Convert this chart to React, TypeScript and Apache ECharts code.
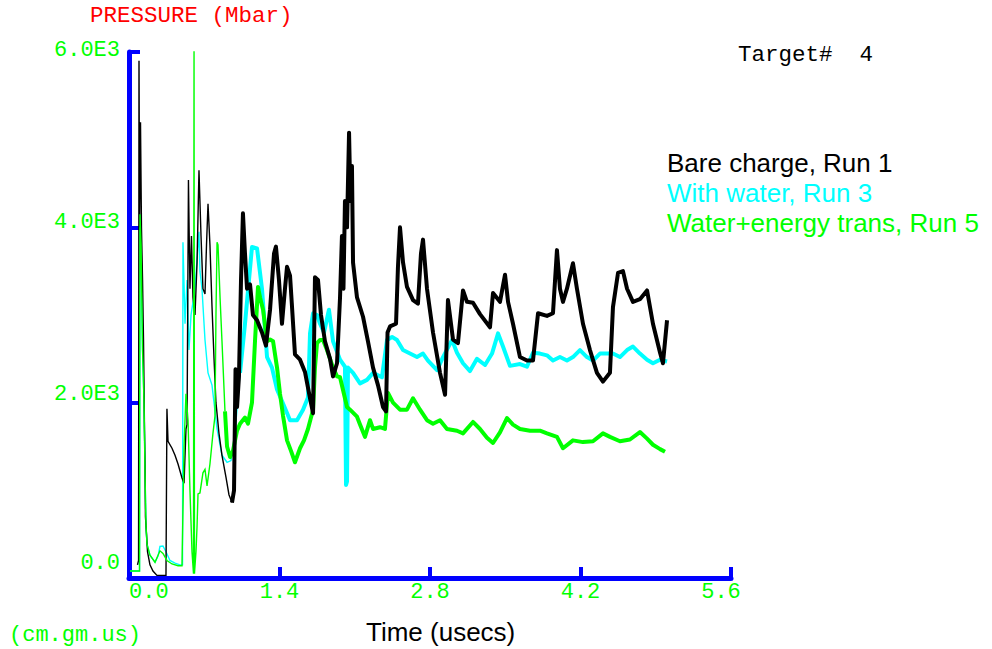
import React, { useEffect, useRef } from 'react';
import * as echarts from 'echarts';

// ---- data (time in usecs, pressure in Mbar) ----
const xTicks = [0, 1.4, 2.8, 4.2, 5.6];
const yTicks = [0, 2000, 4000, 6000];

const blackT = [0.079, 0.089, 0.093, 0.098, 0.107, 0.116, 0.126, 0.135, 0.144, 0.149, 0.153, 0.163, 0.172, 0.195, 0.223, 0.26, 0.344, 0.353, 0.363, 0.4, 0.428, 0.456, 0.493, 0.512, 0.53, 0.54, 0.553, 0.567, 0.581, 0.595, 0.614, 0.633, 0.651, 0.67, 0.688, 0.707, 0.721, 0.735, 0.753, 0.772, 0.791, 0.809, 0.837, 0.865, 0.902, 0.93, 0.958, 0.977, 0.991, 1.005, 1.023, 1.042, 1.06, 1.079, 1.098, 1.126, 1.153, 1.191, 1.237, 1.274, 1.312, 1.349, 1.367, 1.395, 1.423, 1.451, 1.47, 1.498, 1.516, 1.544, 1.591, 1.637, 1.684, 1.712, 1.73, 1.758, 1.786, 1.823, 1.87, 1.898, 1.935, 1.963, 1.981, 1.995, 2.009, 2.028, 2.047, 2.06, 2.074, 2.084, 2.121, 2.177, 2.223, 2.27, 2.316, 2.363, 2.391, 2.405, 2.428, 2.484, 2.502, 2.521, 2.549, 2.586, 2.642, 2.688, 2.716, 2.735, 2.772, 2.828, 2.893, 2.94, 2.967, 3.014, 3.06, 3.107, 3.144, 3.2, 3.265, 3.358, 3.386, 3.451, 3.498, 3.526, 3.572, 3.637, 3.702, 3.758, 3.805, 3.888, 3.944, 3.981, 4.009, 4.037, 4.074, 4.13, 4.167, 4.223, 4.288, 4.353, 4.409, 4.474, 4.502, 4.549, 4.595, 4.633, 4.688, 4.753, 4.819, 4.874, 4.94, 4.967, 5.005];
const blackV = [150, 200, 5900, 4000, 5200, 4000, 3400, 2700, 1700, 1300, 700, 500, 300, 150, 80, 30, 30, 1930, 1560, 1480, 1400, 1300, 1140, 1080, 1700, 1750, 4540, 3300, 3900, 3200, 3000, 3600, 4650, 3900, 3300, 3240, 3800, 4270, 3800, 3100, 2500, 2000, 1650, 1400, 1150, 950, 860, 1000, 2380, 1950, 2300, 3400, 4160, 3700, 3300, 3350, 3000, 2940, 2800, 2650, 3060, 3700, 3780, 3400, 2900, 3300, 3550, 3450, 3100, 2550, 2490, 2350, 2050, 1880, 3430, 3400, 3000, 2700, 2500, 2300, 2450, 3200, 3900, 3300, 4300, 4000, 5080, 4300, 4700, 3600, 3200, 2980, 2700, 2400, 2200, 1950, 1900, 2800, 2870, 2900, 3550, 4000, 3600, 3320, 3170, 3130, 3700, 3860, 3300, 2800, 2340, 2090, 3170, 2720, 2680, 3280, 3150, 3140, 3010, 2860, 3250, 3150, 3460, 3150, 2900, 2520, 2480, 2480, 3020, 2990, 3020, 3740, 3300, 3150, 3300, 3590, 3300, 2900, 2600, 2340, 2240, 2340, 3090, 3480, 3500, 3300, 3150, 3180, 3280, 2900, 2570, 2450, 2940];

const cyanT = [0.009, 0.098, 0.102, 0.112, 0.126, 0.14, 0.149, 0.158, 0.167, 0.195, 0.242, 0.27, 0.288, 0.316, 0.344, 0.381, 0.428, 0.474, 0.498, 0.502, 0.521, 0.54, 0.558, 0.577, 0.614, 0.651, 0.66, 0.679, 0.707, 0.735, 0.772, 0.819, 0.865, 0.912, 0.949, 0.986, 1.033, 1.079, 1.144, 1.191, 1.237, 1.284, 1.33, 1.377, 1.433, 1.498, 1.563, 1.619, 1.665, 1.684, 1.712, 1.749, 1.777, 1.814, 1.86, 1.898, 1.963, 2.009, 2.019, 2.028, 2.037, 2.084, 2.149, 2.214, 2.27, 2.353, 2.4, 2.447, 2.493, 2.549, 2.614, 2.679, 2.735, 2.781, 2.865, 2.921, 3.005, 3.051, 3.107, 3.172, 3.237, 3.312, 3.377, 3.433, 3.479, 3.544, 3.637, 3.702, 3.758, 3.823, 3.888, 3.944, 4.009, 4.074, 4.13, 4.195, 4.26, 4.316, 4.381, 4.447, 4.502, 4.567, 4.633, 4.688, 4.753, 4.819, 4.874, 4.94, 5.005];
const cyanV = [80, 80, 4150, 3800, 2600, 2000, 1200, 600, 390, 260, 180, 250, 360, 365, 300, 200, 170, 150, 150, 3830, 2900, 3400, 2600, 3000, 3300, 3950, 3500, 3300, 2715, 2340, 2200, 1700, 1400, 1320, 1340, 1650, 2340, 2900, 3775, 3760, 3300, 2520, 2400, 2150, 1990, 1800, 1800, 1920, 2060, 2790, 3020, 3000, 2900, 2800, 3060, 2700, 2490, 2410, 1060, 1100, 2400, 2340, 2220, 2260, 2340, 2290, 2715, 2750, 2715, 2600, 2560, 2520, 2560, 2480, 2370, 2520, 2715, 2570, 2450, 2360, 2500, 2430, 2560, 2790, 2640, 2420, 2440, 2410, 2570, 2560, 2540, 2480, 2520, 2480, 2520, 2600, 2520, 2480, 2560, 2560, 2560, 2520, 2600, 2640, 2560, 2490, 2450, 2490, 2470];

const greenT = [0.009, 0.098, 0.102, 0.112, 0.126, 0.14, 0.149, 0.158, 0.167, 0.195, 0.242, 0.288, 0.316, 0.353, 0.4, 0.456, 0.493, 0.512, 0.53, 0.549, 0.567, 0.586, 0.6, 0.605, 0.609, 0.623, 0.633, 0.642, 0.66, 0.688, 0.707, 0.726, 0.753, 0.781, 0.8, 0.809, 0.819, 0.828, 0.847, 0.865, 0.893, 0.912, 0.94, 0.967, 1.005, 1.033, 1.079, 1.107, 1.144, 1.172, 1.2, 1.219, 1.247, 1.284, 1.312, 1.34, 1.377, 1.405, 1.433, 1.47, 1.507, 1.544, 1.591, 1.628, 1.665, 1.712, 1.73, 1.749, 1.777, 1.805, 1.842, 1.898, 1.935, 1.963, 2.028, 2.056, 2.121, 2.149, 2.195, 2.242, 2.27, 2.335, 2.381, 2.409, 2.456, 2.521, 2.586, 2.642, 2.707, 2.772, 2.828, 2.893, 2.958, 3.051, 3.107, 3.2, 3.265, 3.33, 3.386, 3.451, 3.516, 3.572, 3.637, 3.73, 3.823, 3.888, 3.981, 4.037, 4.13, 4.223, 4.316, 4.409, 4.474, 4.567, 4.66, 4.753, 4.819, 4.874, 4.94, 4.986];
const greenV = [80, 80, 4150, 3800, 2600, 2000, 1200, 600, 390, 260, 180, 310, 280, 200, 160, 140, 140, 1500, 2100, 1800, 1000, 300, 50, 6030, 50, 300, 590, 960, 970, 1200, 1240, 1050, 1300, 1650, 1850, 3000, 3830, 3800, 3200, 2700, 1900, 1500, 1380, 1450, 1680, 1760, 1830, 1760, 2000, 2700, 3320, 3200, 3060, 2700, 2720, 2700, 2400, 2100, 1850, 1570, 1450, 1320, 1480, 1570, 1700, 1920, 2400, 2680, 2715, 2715, 2600, 2400, 2300, 2290, 1950, 1920, 1840, 1750, 1610, 1800, 1700, 1720, 1700, 2110, 2000, 1920, 1920, 2050, 1920, 1800, 1760, 1800, 1700, 1680, 1650, 1780, 1700, 1600, 1540, 1660, 1825, 1750, 1700, 1680, 1680, 1650, 1610, 1480, 1570, 1550, 1560, 1650, 1610, 1560, 1580, 1665, 1590, 1520, 1470, 1440];

const seriesNames = ['Bare charge, Run 1', 'With water, Run 3', 'Water+energy trans, Run 5'];

// ---- styling ----
const BLUE = '#0000ff';
const GREEN = '#00ff00';
const CYAN = '#00ffff';
const BLACK = '#000000';
const MONO = '"Liberation Mono", "DejaVu Sans Mono", monospace';
const SANS = '"Liberation Sans", Arial, sans-serif';

function pairs(t: number[], v: number[]) {
  return t.map((x, i) => [x, v[i]]);
}

function splitSeries(name: string, t: number[], v: number[], color: string, splitAt: number, zEarly: number, zLate: number) {
  const all = pairs(t, v);
  const early = all.filter((p) => p[0] <= splitAt);
  const late = all.filter((p) => p[0] >= splitAt);
  const base = {
    type: 'line',
    name,
    showSymbol: false,
    symbol: 'none',
    silent: true,
  };
  return [
    { ...base, z: zEarly, data: early, lineStyle: { color, width: 1.4, join: 'miter' } },
    { ...base, z: zLate, data: late, lineStyle: { color, width: 4, join: 'round' } },
  ];
}

function fmtY(v: number) {
  if (v === 0) return '0.0';
  return (v / 1000).toFixed(1) + 'E3';
}

const yShift: Record<string, number> = { '0': 30, '2000': 16, '4000': 10, '6000': 4 };

export default function App() {
  const ref = useRef<HTMLDivElement>(null);

  useEffect(() => {
    document.body.style.margin = '0';
    if (!ref.current) return;
    const chart = echarts.init(ref.current, undefined, { renderer: 'svg' });
    const richY: Record<string, any> = {};
    yTicks.forEach((v) => {
      richY['l' + v] = {
        color: GREEN,
        fontFamily: MONO,
        fontSize: 22,
        padding: [0, 0, yShift[String(v)] || 0, 0],
      };
    });
    const richX = {
      n: { color: GREEN, fontFamily: MONO, fontSize: 22 },
      last: { color: GREEN, fontFamily: MONO, fontSize: 22, padding: [0, 20, 0, 0] },
    };

    const option: any = {
      animation: false,
      backgroundColor: '#ffffff',
      grid: { left: 129, right: 261, top: 52, bottom: 71, containLabel: false },
      xAxis: {
        type: 'value',
        min: xTicks[0],
        max: xTicks[xTicks.length - 1],
        interval: 1.4,
        axisLine: { show: true, onZero: false, lineStyle: { color: BLUE, width: 5 } },
        axisTick: { show: true, inside: true, length: 11, lineStyle: { color: BLUE, width: 4 } },
        axisLabel: {
          color: GREEN,
          fontFamily: MONO,
          fontSize: 22,
          margin: 3,
          alignMinLabel: 'left',
          formatter: (v: number) =>
            Math.abs(v - xTicks[xTicks.length - 1]) < 1e-6 ? '{last|' + v.toFixed(1) + '}' : '{n|' + v.toFixed(1) + '}',
          rich: richX,
        },
        splitLine: { show: false },
      },
      yAxis: {
        type: 'value',
        min: yTicks[0],
        max: yTicks[yTicks.length - 1],
        interval: 2000,
        axisLine: { show: true, onZero: false, lineStyle: { color: BLUE, width: 5 } },
        axisTick: { show: true, inside: true, length: 11, lineStyle: { color: BLUE, width: 4 } },
        axisLabel: {
          color: GREEN,
          fontFamily: MONO,
          fontSize: 22,
          margin: 9,
          formatter: (v: number) => '{l' + v + '|' + fmtY(v) + '}',
          rich: richY,
        },
        splitLine: { show: false },
      },
      series: [
        ...splitSeries(seriesNames[1], cyanT, cyanV, CYAN, 1.033, 2, 2),
        ...splitSeries(seriesNames[2], greenT, greenV, GREEN, 0.893, 4, 3),
        ...splitSeries(seriesNames[0], blackT, blackV, BLACK, 0.958, 3, 4),
      ],
      graphic: [
        { type: 'text', x: 90, y: 16, style: { text: 'PRESSURE (Mbar)', fill: '#ff0000', font: '22.5px ' + MONO, verticalAlign: 'middle' } },
        { type: 'text', x: 738, y: 55, style: { text: 'Target#  4', fill: BLACK, font: '22.5px ' + MONO, verticalAlign: 'middle' } },
        { type: 'text', x: 9, y: 635, style: { text: '(cm.gm.us)', fill: GREEN, font: '22px ' + MONO, verticalAlign: 'middle' } },
        { type: 'text', x: 366, y: 632, style: { text: 'Time (usecs)', fill: BLACK, font: '26px ' + SANS, verticalAlign: 'middle' } },
        { type: 'text', x: 667, y: 163, style: { text: seriesNames[0], fill: BLACK, font: '26px ' + SANS, verticalAlign: 'middle' } },
        { type: 'text', x: 667, y: 193, style: { text: seriesNames[1], fill: CYAN, font: '26px ' + SANS, verticalAlign: 'middle' } },
        { type: 'text', x: 667, y: 223, style: { text: seriesNames[2], fill: GREEN, font: '26px ' + SANS, verticalAlign: 'middle' } },
      ],
    };
    chart.setOption(option);
    return () => {
      chart.dispose();
    };
  }, []);

  return <div ref={ref} style={{ width: 992, height: 649 }} />;
}
